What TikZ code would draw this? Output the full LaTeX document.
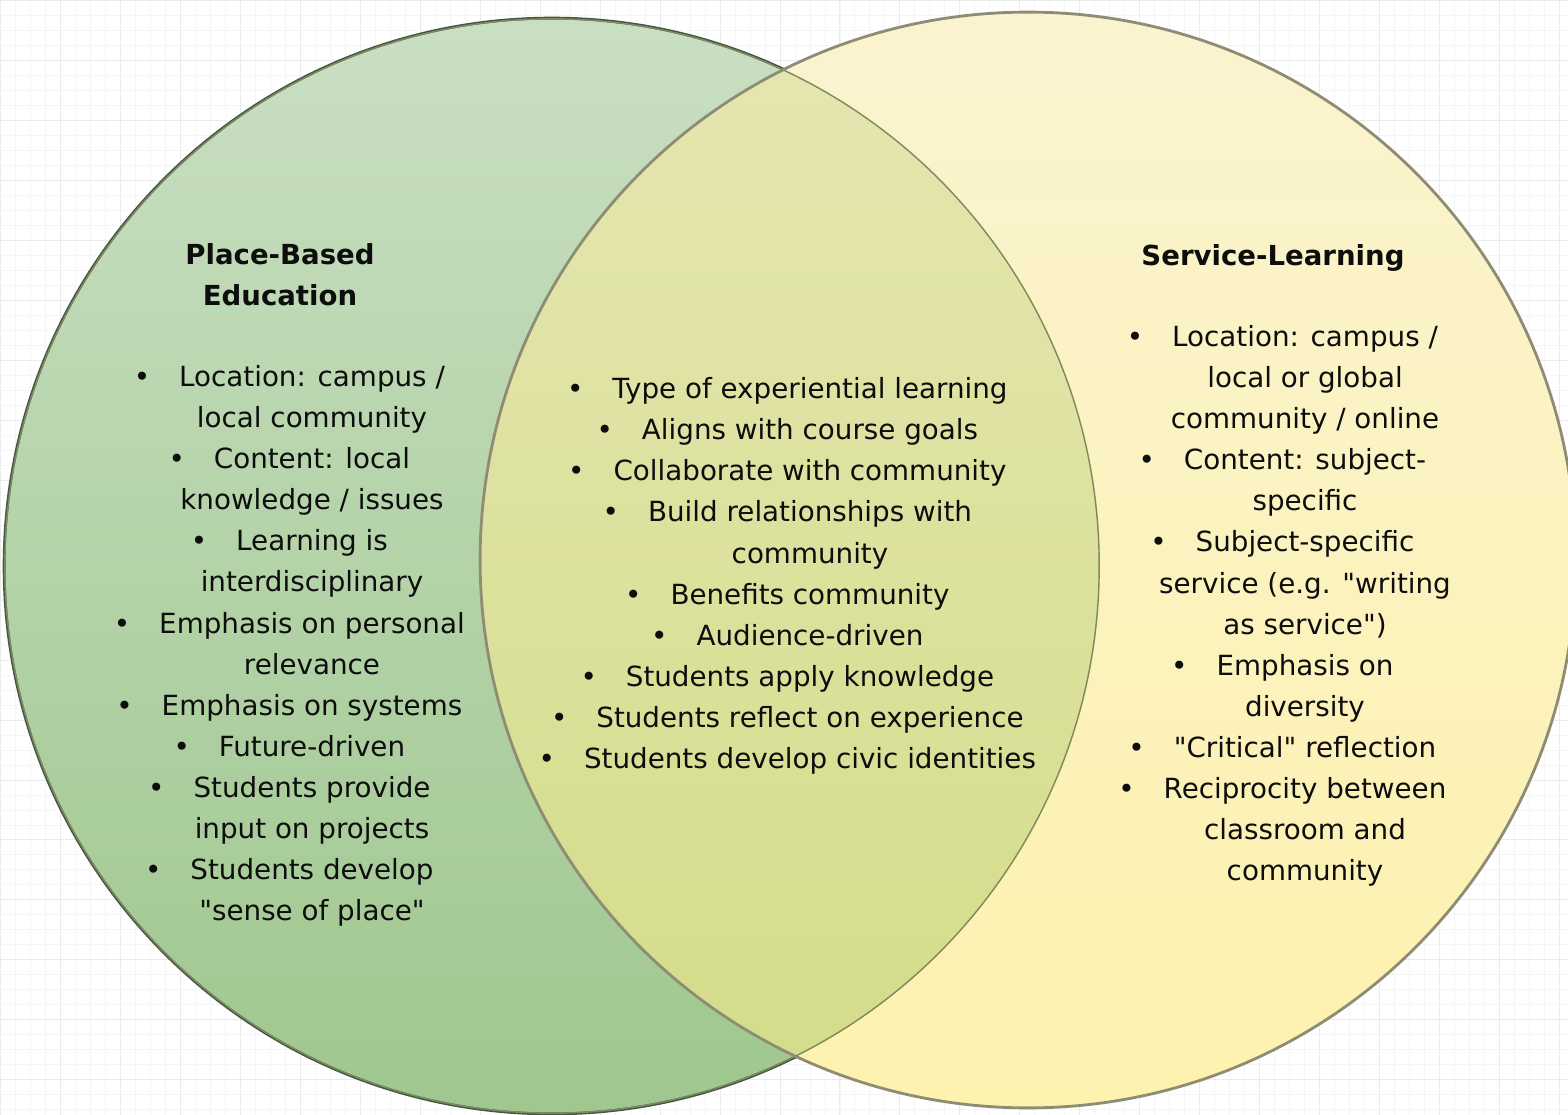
\documentclass[tikz,border=0pt]{standalone}
\usepackage{fontspec}
\setmainfont{DejaVu Sans}[Ligatures=TeXOff]
\usetikzlibrary{positioning}

\definecolor{pbetop}{HTML}{C9DFC3}
\definecolor{pbebot}{HTML}{9FC78E}
\definecolor{sltop}{HTML}{FAF3CF}
\definecolor{slbot}{HTML}{FDF2AE}
\definecolor{lenstop}{HTML}{E6E6B2}
\definecolor{lensbot}{HTML}{D3DC88}
\definecolor{pbeline}{HTML}{465646}
\definecolor{slline}{HTML}{8E8D74}
\definecolor{lensline}{HTML}{7E8A5E}

\newcommand{\itm}{\llap{\textbullet\hspace{0.58cm}}}

\tikzset{
  listtext/.style={align=center, inner sep=0pt, text=black!95,
    font=\fontsize{15.8}{23.4}\selectfont},
  headtext/.style={align=center, inner sep=0pt, text=black!95,
    font=\bfseries\fontsize{15.7}{23.5}\selectfont},
}

\begin{document}
\begin{tikzpicture}[x=0.02cm, y=-0.02cm]
\useasboundingbox (0,0) rectangle (1568,1115);
\fill[white] (0,0) rectangle (1568,1115);
\draw[black!4, step=0.3cm] (0,1115) grid (1568,0);
\draw[black!8, step=1.2cm] (0,1115) grid (1568,0);

% circles
\shade[top color=pbetop, bottom color=pbebot] (552,566) circle [radius=10.96cm];
\draw[pbeline, line width=1.6pt] (552,566) circle [radius=10.96cm];
\shade[top color=sltop, bottom color=slbot] (1028,560) circle [radius=10.96cm];
\begin{scope}
  \clip (552,566) circle [radius=10.96cm];
  \shade[top color=lenstop, bottom color=lensbot] (1028,560) circle [radius=10.96cm];
  \draw[lensline, line width=1.6pt] (552,566) circle [radius=10.96cm];
\end{scope}
\draw[slline, line width=1.6pt] (1028,560) circle [radius=10.96cm];

% left
\node[headtext] (pbe) at (280,275) {Place-Based\\Education};
\node[listtext] (pbelist) at (312,646) {\itm Location: campus /\\ local community\\
  \itm Content: local\\ knowledge / issues\\ \itm Learning is\\ interdisciplinary\\
  \itm Emphasis on personal\\ relevance\\ \itm Emphasis on systems\\
  \itm Future-driven\\ \itm Students provide\\ input on projects\\
  \itm Students develop\\ "sense of place"};

% both
\node[listtext] (bothlist) at (810,576) {\itm Type of experiential learning\\
  \itm Aligns with course goals\\ \itm Collaborate with community\\
  \itm Build relationships with\\ community\\ \itm Benefits community\\
  \itm Audience-driven\\ \itm Students apply knowledge\\
  \itm Students reflect on experience\\ \itm Students develop civic identities};

% right
\node[headtext] (sl) at (1273,258) {Service-Learning};
\node[listtext] (sllist) at (1305,606) {\itm Location: campus /\\ local or global\\
  community / online\\ \itm Content: subject-\\ specific\\ \itm Subject-specific\\
  service (e.g. "writing\\ as service")\\ \itm Emphasis on\\ diversity\\
  \itm "Critical" reflection\\ \itm Reciprocity between\\ classroom and\\ community};

\end{tikzpicture}
\end{document}
